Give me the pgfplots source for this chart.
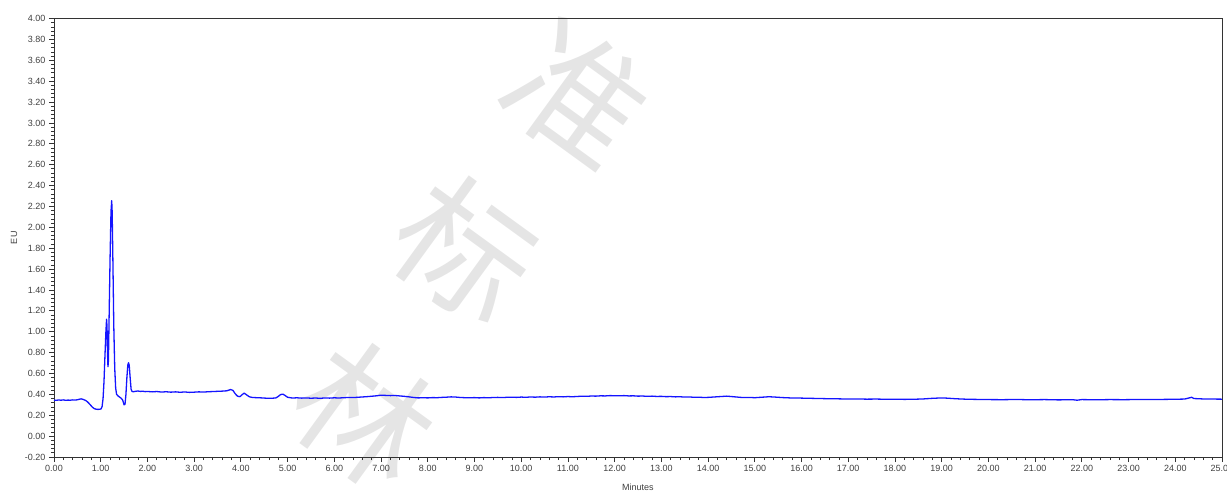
\documentclass[border=0pt]{standalone}
\usepackage{pgfplots}
\pgfplotsset{compat=1.18}
\usepackage{fontspec}
\setmainfont{Liberation Sans}
\newfontfamily\cjk{Noto Sans CJK SC}
\pgfplotstableread{
x y
0.00 0.345
0.05 0.343
0.10 0.346
0.15 0.344
0.20 0.347
0.25 0.343
0.30 0.345
0.35 0.344
0.40 0.347
0.45 0.345
0.50 0.348
0.55 0.354
0.58 0.357
0.62 0.352
0.66 0.345
0.70 0.335
0.74 0.318
0.78 0.298
0.82 0.278
0.86 0.264
0.90 0.258
0.94 0.256
0.98 0.257
1.01 0.262
1.03 0.285
1.05 0.360
1.07 0.520
1.09 0.760
1.11 0.990
1.125 1.120
1.135 1.050
1.145 0.800
1.155 0.665
1.165 0.720
1.18 1.150
1.20 1.700
1.22 2.150
1.235 2.255
1.245 2.150
1.26 1.700
1.28 1.050
1.30 0.650
1.32 0.460
1.34 0.400
1.37 0.385
1.40 0.375
1.44 0.362
1.47 0.345
1.50 0.300
1.52 0.305
1.54 0.400
1.56 0.560
1.58 0.680
1.595 0.703
1.61 0.680
1.63 0.560
1.65 0.450
1.67 0.428
1.70 0.425
1.75 0.430
1.80 0.432
1.85 0.428
1.90 0.430
1.95 0.426
2.0 0.428
2.1 0.424
2.2 0.427
2.3 0.422
2.4 0.425
2.5 0.421
2.6 0.424
2.7 0.420
2.8 0.423
2.9 0.419
3.0 0.421
3.1 0.424
3.2 0.422
3.3 0.425
3.4 0.427
3.5 0.429
3.6 0.431
3.7 0.434
3.78 0.446
3.83 0.438
3.88 0.405
3.93 0.382
3.98 0.378
4.03 0.398
4.07 0.412
4.12 0.396
4.18 0.377
4.25 0.370
4.35 0.368
4.45 0.366
4.55 0.363
4.65 0.362
4.75 0.366
4.80 0.380
4.85 0.398
4.90 0.402
4.95 0.388
5.00 0.372
5.1 0.365
5.2 0.367
5.3 0.364
5.4 0.366
5.5 0.363
5.6 0.365
5.7 0.362
5.8 0.366
5.9 0.364
6.0 0.367
6.1 0.365
6.2 0.368
6.3 0.370
6.4 0.369
6.5 0.372
6.6 0.375
6.7 0.378
6.8 0.382
6.9 0.386
7.0 0.392
7.1 0.390
7.2 0.388
7.3 0.389
7.4 0.385
7.5 0.381
7.6 0.376
7.7 0.370
7.8 0.366
7.9 0.368
8.0 0.366
8.1 0.369
8.2 0.368
8.3 0.371
8.4 0.373
8.5 0.376
8.6 0.374
8.7 0.370
8.8 0.368
8.9 0.367
9.0 0.369
9.1 0.366
9.2 0.369
9.3 0.367
9.4 0.370
9.5 0.371
9.6 0.369
9.7 0.372
9.8 0.373
9.9 0.371
10.0 0.374
10.1 0.372
10.2 0.375
10.3 0.373
10.4 0.376
10.5 0.374
10.6 0.377
10.7 0.375
10.8 0.378
10.9 0.376
11.0 0.379
11.1 0.377
11.2 0.380
11.3 0.382
11.4 0.381
11.5 0.384
11.6 0.383
11.7 0.386
11.8 0.385
11.9 0.388
12.0 0.387
12.1 0.386
12.2 0.388
12.3 0.385
12.4 0.386
12.5 0.383
12.6 0.384
12.7 0.381
12.8 0.383
12.9 0.380
13.0 0.381
13.1 0.378
13.2 0.379
13.3 0.376
13.4 0.377
13.5 0.374
13.6 0.375
13.7 0.372
13.8 0.373
13.9 0.370
14.0 0.371
14.1 0.374
14.2 0.377
14.3 0.380
14.4 0.383
14.5 0.379
14.6 0.375
14.7 0.371
14.8 0.369
14.9 0.370
15.0 0.368
15.1 0.371
15.2 0.374
15.3 0.377
15.4 0.375
15.5 0.372
15.6 0.369
15.7 0.367
15.8 0.365
15.9 0.366
16.0 0.364
16.2 0.362
16.4 0.360
16.6 0.358
16.8 0.357
17.0 0.355
17.2 0.356
17.4 0.354
17.6 0.355
17.8 0.353
18.0 0.354
18.2 0.352
18.4 0.353
18.6 0.356
18.8 0.362
19.0 0.366
19.1 0.364
19.3 0.358
19.5 0.354
19.7 0.352
20.0 0.350
20.3 0.349
20.6 0.351
20.9 0.348
21.2 0.350
21.5 0.347
21.8 0.349
21.9 0.344
22.0 0.350
22.3 0.348
22.6 0.350
22.9 0.349
23.2 0.351
23.5 0.350
23.8 0.352
24.0 0.353
24.2 0.355
24.3 0.366
24.35 0.372
24.4 0.360
24.6 0.356
24.8 0.355
25.0 0.354
}\signal
\begin{document}
\begin{tikzpicture}
\path[use as bounding box] (-54pt,-36pt) rectangle (1173pt,457pt);
\begin{scope}[every node/.style={text=black!10, font=\cjk\fontsize{135}{135}\selectfont, rotate=-36, inner sep=0pt}]
\node at (311pt,42pt) {林};
\node at (411pt,207pt) {标};
\node at (523pt,362pt) {准};
\end{scope}
\begin{axis}[
  scale only axis, width=1168pt, height=438.5pt,
  xmin=0, xmax=25, ymin=-0.2, ymax=4.0,
  xtick={0,1,...,25},
  ytick={-0.2,0,0.2,0.4,0.6,0.8,1.0,1.2,1.4,1.6,1.8,2.0,2.2,2.4,2.6,2.8,3.0,3.2,3.4,3.6,3.8,4.0},
  minor x tick num=4, minor y tick num=4,
  tick align=outside, xtick pos=lower, ytick pos=left,
  major tick length=5pt, minor tick length=3pt,
  axis line style={black!80, line width=0.9pt},
  every tick/.append style={black!80, line width=0.8pt},
  every minor tick/.append style={black!80, line width=0.7pt},
  tick label style={font=\fontsize{9}{10}\selectfont, text=black!75},
  /pgf/number format/assume math mode=true,
  xticklabel style={/pgf/number format/.cd, fixed, fixed zerofill, precision=2},
  yticklabel style={/pgf/number format/.cd, fixed, fixed zerofill, precision=2},
  xlabel={Minutes}, ylabel={EU},
  label style={font=\fontsize{9}{10}\selectfont, text=black!75},
  xlabel style={at={(axis description cs:0.5,-0.0684)}, anchor=center},
  ylabel style={at={(axis description cs:-0.0342,0.5)}, anchor=center},
]
\addplot[color={rgb,255:red,20;green,20;blue,255}, line width=1.3pt, line join=round] table[x=x,y=y] {\signal};
\end{axis}
\end{tikzpicture}
\end{document}
